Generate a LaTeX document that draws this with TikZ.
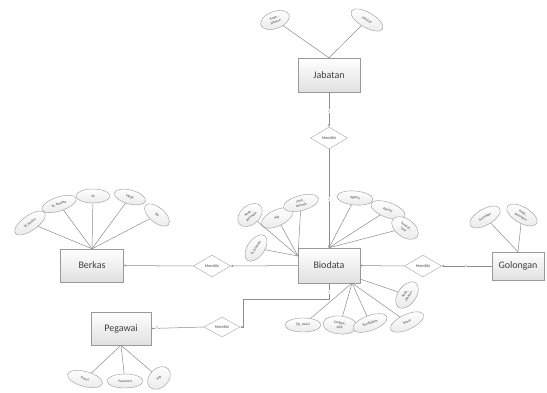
\documentclass[tikz,border=0pt]{standalone}
\usepackage{fontspec}
\setmainfont{Carlito}
\usetikzlibrary{shapes.geometric,arrows.meta}
\begin{document}
\begin{tikzpicture}[x=1pt,y=-1pt,
  entity/.style={draw=black!40, top color=white, bottom color=black!12,
    inner sep=0pt, font=\fontsize{10}{12}\selectfont, text=black!75},
  bsz/.style 2 args={minimum width=#1pt, minimum height=#2pt},
  attr/.style={ellipse, draw=black!40, top color=white, bottom color=black!8,
    inner sep=0pt, align=center, font=\fontsize{3.5}{4.4}\selectfont, text=black!75},
  rel/.style={diamond, draw=black!35, fill=white, inner sep=0pt, aspect=1.7,
    minimum width=37pt, minimum height=22pt, font=\fontsize{4}{5}\selectfont, text=black!75},
  link/.style={draw=black!45, line width=0.5pt},
  tip/.style={link, -{Latex[length=2.2pt,width=2.2pt]}},
  card/.style={font=\fontsize{3.5}{4}\selectfont, text=black!60, fill=white, inner sep=0.4pt}
]
\fill[white] (0,0) rectangle (547,392);
\useasboundingbox (0,0) rectangle (547,392);

% entities
\node[entity, bsz={62}{34}] (jab) at (329,75) {Jabatan};
\node[entity, bsz={62}{35}] (bio) at (329,265.5) {Biodata};
\node[entity, bsz={52}{28}] (gol) at (518,266) {Golongan};
\node[entity, bsz={63}{33}] (ber) at (92,265.5) {Berkas};
\node[entity, bsz={60}{33}] (peg) at (121,328.5) {Pegawai};

% relationships
\node[rel] (rj) at (329,138) {Memiliki};
\node[rel] (rb) at (212,266) {Memiliki};
\node[rel] (rg) at (423,266) {Memiliki};
\node[rel, minimum width=36pt, minimum height=20pt] (rp) at (222,327) {Memiliki};

% Jabatan attributes
\node[attr, bsz={30}{17}, rotate=20] (kj) at (275,20) {Kode\_\\jabatan};
\node[attr, bsz={36}{15}, rotate=-30] (jb) at (367,20) {Jabatan};
\draw[link] (kj) -- (jab.north);
\draw[link] (jb) -- (jab.north);

% Berkas attributes
\node[attr, bsz={36}{15}, rotate=35] (ib) at (30,223) {Id\_berkas};
\node[attr, bsz={36}{14}, rotate=18] (ibd) at (59,204) {Id\_biodata};
\node[attr, bsz={34}{14}] (sk) at (93,196) {Sk};
\node[attr, bsz={32}{14}, rotate=-15] (skp) at (130,197) {Sktpk};
\node[attr, bsz={30}{15}, rotate=-40] (dp) at (157,215) {Dp};
\foreach \a in {ib,ibd,sk,skp,dp} \draw[link] (\a) -- (ber.north);

% Biodata attributes, left group
\coordinate (bl) at (298,256);
\node[attr, bsz={28}{19}, rotate=40] (kg) at (250,215) {Kode\_\\golongan};
\node[attr, bsz={34}{16}, rotate=25] (nip) at (277,218) {Nip};
\node[attr, bsz={36}{15}, rotate=15] (jk) at (301,203) {Jenis\_\\kelamin};
\node[attr, bsz={30}{17}, rotate=55] (idb) at (256,248) {Id\_biodata};
\foreach \a in {kg,nip,jk,idb} \draw[link] (\a) -- (bl);

% Biodata attributes, upper right group
\node[attr, bsz={36}{14}, rotate=-5] (ag) at (355,198) {Agama};
\node[attr, bsz={36}{15}, rotate=-20] (al) at (388,210) {Alamat};
\node[attr, bsz={30}{18}, rotate=-35] (tl) at (405,228) {Tempat\_\\lahir};
\foreach \a in {ag,al,tl} \draw[link] (\a) -- (bio.north);

% Biodata attributes, lower group
\coordinate (bb) at (352,283);
\coordinate (be) at (360,279);
\node[attr, bsz={36}{14}] (tm) at (303,325) {Tgl\_mulai};
\node[attr, bsz={34}{18}, rotate=-5] (tgl) at (340,325) {Tanggal\_\\lahir};
\node[attr, bsz={36}{15}, rotate=20] (pd) at (370,323) {Pendidikan};
\node[attr, bsz={36}{15}, rotate=25] (st) at (407,322) {Status};
\node[attr, bsz={30}{18}, rotate=55] (kj2) at (407,295) {Kode\_\\jabatan};
\foreach \a in {tm,tgl,pd,st} \draw[link] (\a) -- (bb);
\draw[link] (kj2) -- (be);

% Golongan attributes
\node[attr, bsz={34}{16}, rotate=30] (gg) at (485,217) {Golongan};
\node[attr, bsz={34}{16}, rotate=-30] (kgg) at (522,215) {Kode\_\\golongan};
\draw[link] (gg) -- (gol.north);
\draw[link] (kgg) -- (gol.north);

% Pegawai attributes
\node[attr, bsz={36}{15}, rotate=-15] (nm) at (85,379) {Nama};
\node[attr, bsz={36}{14}] (pw) at (125,381) {Password};
\node[attr, bsz={26}{19}, rotate=45] (np) at (159,378) {Nip};
\foreach \a in {nm,pw,np} \draw[link] (\a) -- (peg.south);

% relationship lines
\draw[tip] (jab.south) -- (rj.north);
\draw[tip] (rj.south) -- (bio.north);
\node[card] at (329,111) {1};
\node[card] at (329,199) {1};

\draw[tip] (bio.west) -- (rb.east);
\draw[tip] (rb.west) -- (ber.east);
\node[card] at (265,266) {1};
\node[card] at (158,266) {M};

\draw[tip] (gol.west) -- (rg.east);
\draw[tip] (rg.west) -- (bio.east);
\node[card] at (382,266) {1};
\node[card] at (466,266) {1};

\coordinate (bend) at (243,299);
\draw[tip] (bio.south) |- (bend) |- (rp.east);
\draw[tip] (rp.west) -- (peg.east);
\node[card] at (329,292) {1};
\node[card] at (157,327) {1};
\end{tikzpicture}
\end{document}
